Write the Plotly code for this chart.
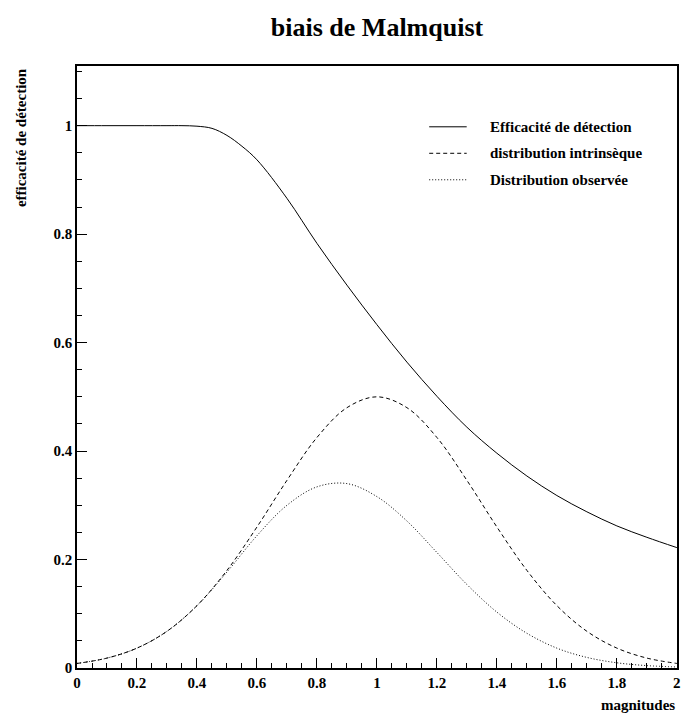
import plotly.graph_objects as go

# ---- data ----
mag_eff = [0.0, 0.1, 0.2, 0.3, 0.35, 0.4, 0.45, 0.5, 0.55, 0.6, 0.7, 0.8, 0.9, 1.0,
           1.1, 1.2, 1.3, 1.4, 1.5, 1.6, 1.7, 1.8, 1.9, 2.0]
efficacite = [1.0, 1.0, 1.0, 1.0, 1.0, 0.999, 0.995, 0.982, 0.962, 0.937, 0.866, 0.783,
              0.706, 0.633, 0.564, 0.501, 0.444, 0.396, 0.354, 0.318, 0.288, 0.262,
              0.241, 0.222]

mag = [0.0, 0.1, 0.2, 0.3, 0.4, 0.5, 0.6, 0.7, 0.8, 0.9, 1.0,
       1.1, 1.2, 1.3, 1.4, 1.5, 1.6, 1.7, 1.8, 1.9, 2.0]
intrinseque = [0.0084, 0.0183, 0.0367, 0.0677, 0.115, 0.180, 0.260, 0.346, 0.425, 0.480,
               0.500, 0.480, 0.425, 0.346, 0.260, 0.180, 0.115, 0.0677, 0.0367, 0.0183,
               0.0084]
observee = [0.0084, 0.0183, 0.0367, 0.0677, 0.115, 0.177, 0.244, 0.300, 0.334, 0.340,
            0.316, 0.271, 0.213, 0.154, 0.103, 0.064, 0.0366, 0.0195, 0.0096, 0.0044,
            0.0019]

noms = ["Efficacité de détection", "distribution intrinsèque", "Distribution observée"]
titre = "biais de Malmquist"
titre_x = "magnitudes"
titre_y = "efficacité de détection"
x_ticks = [0, 0.2, 0.4, 0.6, 0.8, 1.0, 1.2, 1.4, 1.6, 1.8, 2.0]
x_ticklabels = ["0", "0.2", "0.4", "0.6", "0.8", "1", "1.2", "1.4", "1.6", "1.8", "2"]

FONT = "Liberation Serif"
dashes = ["solid", "4px,3px", "1px,2px"]

fig = go.Figure()
series = [(mag_eff, efficacite), (mag, intrinseque), (mag, observee)]
for (xs, ys), nom, d in zip(series, noms, dashes):
    fig.add_trace(go.Scatter(x=xs, y=ys, mode="lines", name=nom,
                             line=dict(color="black", width=1, dash=d, shape="spline"),
                             showlegend=False))

axis_common = dict(
    showgrid=False, zeroline=False, showline=True, linecolor="black", linewidth=1.5,
    mirror=True, ticks="inside", ticklen=10, tickwidth=1, tickcolor="black",
    tickfont=dict(family=FONT, size=15, color="black", weight="bold"),
)
fig.update_xaxes(range=[0, 2.0005], tickmode="array", tickvals=x_ticks,
                 ticktext=x_ticklabels, ticklabeloverflow="allow",
                 minor=dict(ticks="inside", ticklen=5, dtick=0.05, tick0=0,
                            tickcolor="black"),
                 **axis_common)
fig.update_yaxes(range=[0, 1.11], dtick=0.2, tick0=0,
                 minor=dict(ticks="inside", ticklen=5, dtick=0.05, tickcolor="black"),
                 **axis_common)

annotations = [
    dict(text=titre_x, xref="paper", yref="paper", x=1.0, y=-0.061, xanchor="right",
         yanchor="middle", showarrow=False,
         font=dict(family=FONT, size=15, color="black", weight="bold")),
    dict(text=titre_y, xref="paper", yref="paper", x=-0.094, y=1.0, xanchor="center",
         yanchor="top", textangle=-90, showarrow=False,
         font=dict(family=FONT, size=15, color="black", weight="bold")),
]
shapes = []
leg_y = [0.899, 0.855, 0.811]
for nom, d, yy in zip(noms, dashes, leg_y):
    shapes.append(dict(type="line", xref="paper", yref="paper", x0=0.587, x1=0.6495,
                       y0=yy, y1=yy, line=dict(color="black", width=1, dash=d)))
    annotations.append(dict(text=nom, xref="paper", yref="paper", x=0.685, y=yy,
                            xanchor="left", yanchor="middle", showarrow=False,
                            font=dict(family=FONT, size=15, color="black", weight="bold")))

fig.update_layout(
    width=682, height=719,
    margin=dict(l=77, r=1, t=66, b=51),
    paper_bgcolor="white", plot_bgcolor="white",
    title=dict(text=titre, x=0.5, xref="paper", y=1 - 27 / 719, yanchor="middle",
               font=dict(family=FONT, size=26, color="black", weight="bold")),
    annotations=annotations, shapes=shapes,
    showlegend=False,
)

fig.write_html("out.html", config={"displayModeBar": False},
               post_script="document.body.style.margin='0';document.body.style.overflow='hidden';")
